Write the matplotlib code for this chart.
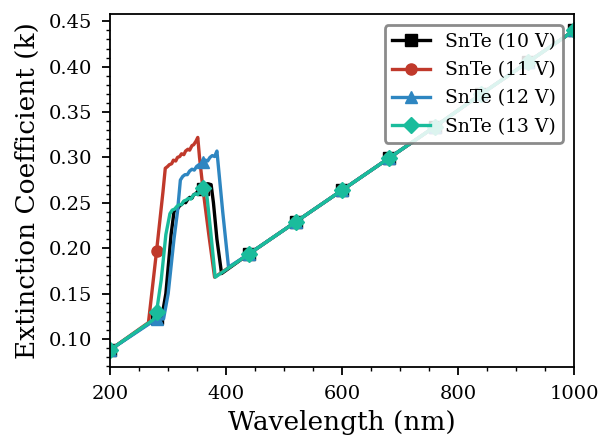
import numpy as np
import matplotlib.pyplot as plt

plt.rcParams['font.family'] = 'DejaVu Serif'

# extinction coefficient k vs wavelength (nm), read at the curve vertices
wl_10v = [200, 280, 289, 296, 305, 310, 313, 316, 320, 323, 327, 330, 334, 337, 341, 344, 348, 351,
          355, 358, 360, 364, 368, 374, 378, 384, 392, 440, 520, 600, 680, 760, 840, 920, 1000]
k_10v = [0.088, 0.123, 0.124, 0.150, 0.215, 0.240, 0.243, 0.243, 0.247, 0.248, 0.251, 0.250, 0.254,
         0.256, 0.255, 0.259, 0.260, 0.263, 0.262, 0.266, 0.265, 0.270, 0.271, 0.270, 0.250, 0.210,
         0.172, 0.194, 0.229, 0.264, 0.299, 0.334, 0.370, 0.405, 0.440]

wl_11v = [200, 266, 280, 291, 295, 299, 302, 306, 309, 313, 316, 320, 323, 327, 330, 334, 337, 341,
          344, 348, 351, 354, 360, 370, 380, 440, 520, 600, 680, 760, 840, 920, 1000]
k_11v = [0.088, 0.118, 0.197, 0.262, 0.288, 0.290, 0.292, 0.293, 0.297, 0.296, 0.300, 0.301, 0.304,
         0.303, 0.307, 0.309, 0.308, 0.313, 0.314, 0.318, 0.322, 0.300, 0.265, 0.215, 0.168, 0.194,
         0.229, 0.264, 0.299, 0.334, 0.370, 0.405, 0.440]

wl_12v = [200, 280, 292, 300, 310, 316, 321, 325, 329, 333, 337, 341, 345, 349, 353, 357, 360, 364,
          368, 372, 376, 380, 384, 394, 404, 440, 520, 600, 680, 760, 840, 920, 1000]
k_12v = [0.088, 0.122, 0.122, 0.150, 0.210, 0.240, 0.275, 0.279, 0.281, 0.281, 0.285, 0.287, 0.286,
         0.290, 0.292, 0.291, 0.295, 0.297, 0.296, 0.300, 0.302, 0.301, 0.307, 0.240, 0.179, 0.194,
         0.229, 0.264, 0.299, 0.334, 0.370, 0.405, 0.440]

wl_13v = [200, 274, 280, 288, 296, 303, 307, 311, 315, 319, 323, 327, 331, 335, 339, 343, 347, 351,
          355, 360, 366, 373, 381, 440, 520, 600, 680, 760, 840, 920, 1000]
k_13v = [0.088, 0.121, 0.130, 0.165, 0.215, 0.238, 0.242, 0.243, 0.246, 0.248, 0.248, 0.252, 0.253,
         0.255, 0.254, 0.258, 0.260, 0.259, 0.263, 0.266, 0.262, 0.220, 0.168, 0.194, 0.229, 0.264,
         0.299, 0.334, 0.370, 0.405, 0.440]

marker_wl = [200, 280, 360, 440, 520, 600, 680, 760, 840, 920, 1000]

series = [
    ('SnTe (10 V)', wl_10v, k_10v, '#000000', 's'),
    ('SnTe (11 V)', wl_11v, k_11v, '#c0392b', 'o'),
    ('SnTe (12 V)', wl_12v, k_12v, '#2e86c1', '^'),
    ('SnTe (13 V)', wl_13v, k_13v, '#1abc9c', 'D'),
]

fig = plt.figure(figsize=(6.02, 4.38), dpi=100)
ax = fig.add_axes([0.183, 0.162, 0.771, 0.806])

for label, wl, k, color, marker in series:
    wl = np.array(wl)
    idx = list(np.where(np.isin(wl, marker_wl))[0])
    ax.plot(wl, k, color=color, lw=2.4, marker=marker, markersize=8,
            markevery=idx, label=label)

ax.set_xlim(200, 1000)
ax.set_ylim(0.069, 0.458)
ax.set_xticks([200, 400, 600, 800, 1000])
ax.set_xticks(np.arange(200, 1001, 50), minor=True)
ax.set_yticks([0.10, 0.15, 0.20, 0.25, 0.30, 0.35, 0.40, 0.45])
ax.set_yticks(np.arange(0.07, 0.455, 0.01), minor=True)
ax.tick_params(axis='both', which='major', labelsize=14, length=6, width=1.3, pad=7)
ax.tick_params(axis='both', which='minor', length=3, width=1)
for s in ax.spines.values():
    s.set_linewidth(1.3)

ax.set_xlabel('Wavelength (nm)', fontsize=19, labelpad=5)
ax.set_ylabel('Extinction Coefficient (k)', fontsize=19, labelpad=6)

leg = ax.legend(loc='upper right', fontsize=13.5, framealpha=0.85, edgecolor='#777777',
                handlelength=2.0, labelspacing=0.55, borderaxespad=0.6)
leg.get_frame().set_linewidth(2)

fig.savefig('out.png', dpi=100)
